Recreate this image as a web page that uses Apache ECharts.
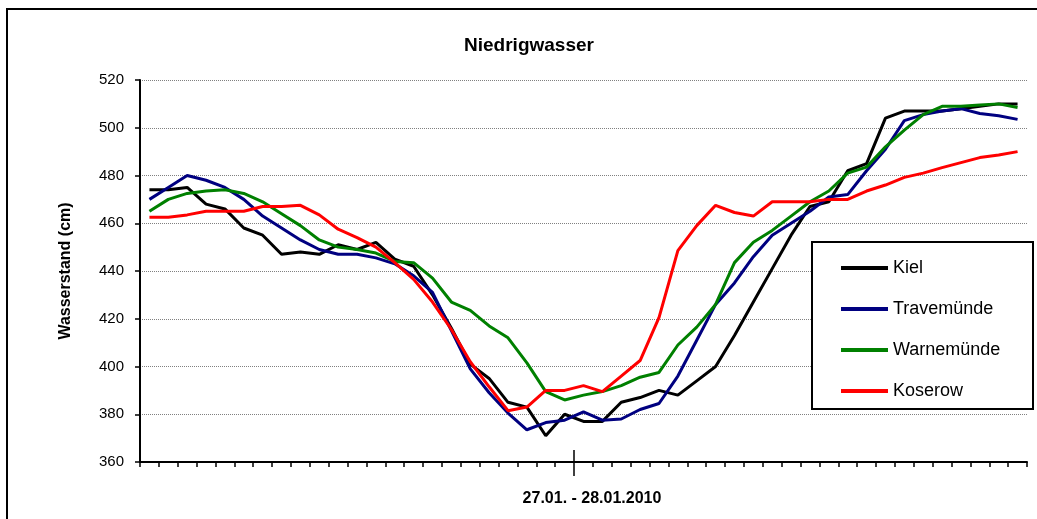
<!DOCTYPE html>
<html>
<head>
<meta charset="utf-8">
<script src="https://cdn.jsdelivr.net/npm/echarts@6/dist/echarts.min.js"></script>
<style>
html,body{margin:0;padding:0;background:#fff;}
#chart{width:1037px;height:519px;}
</style>
</head>
<body>
<div id="chart"></div>
<script>
// Hourly values, 27.01.2010 01:00 .. 28.01.2010 23:00
const categories = [];
for (let h = 1; h <= 23; h++) categories.push('27.01. ' + String(h).padStart(2, '0') + ':00');
for (let h = 0; h <= 23; h++) categories.push('28.01. ' + String(h).padStart(2, '0') + ':00');
const dayBoundaryIndex = 23;

const seriesNames = ['Kiel', 'Travemünde', 'Warnemünde', 'Koserow'];
const kiel = [474,474,475,468,466,458,455,447,448,447,451,449,452,445,442,430,416,401,395,385,383,371,380,377,377,385,387,390,388,394,400,413,427,441,455,467,469,482,485,504,507,507,507,508,509,510,510];
const travemuende = [470,475,480,478,475,470,463,458,453,449,447,447,445.5,443,438,431,415,399,389,380.5,373.5,376.5,377.5,381,377.5,378,382,384.5,396,411,426,435,446,455,460,465,471,472,482,491,503,505.5,507,508,506,505,503.5];
const warnemuende = [465,470,472.5,473.5,474,472.5,469,464,459,453,450,449,447.5,444,443.5,437,427,423.5,417,412,401.5,389.5,386,388,389.5,392,395.5,397.5,409,416.5,426,443.5,452,457,463,469,473.5,481,483.5,492,499,505.5,509,509,509.5,510,508.5];
const koserow = [462.5,462.5,463.5,465,465,465,467,467,467.5,463.5,457.5,454,450,443.5,436.5,427,415.5,402,391.5,381.5,383,390,390,392,389.5,396,402.5,420.5,448.5,459,467.5,464.5,463,469,469,469,470,470,473.5,476,479.2,481,483.3,485.4,487.5,488.6,490];
const seriesData = [kiel, travemuende, warnemuende, koserow];
const colors = ['#000000', '#000080', '#008000', '#ff0000'];

const yMin = 360, yMax = 520, yInterval = 20;
const FONT = '"Liberation Sans", Arial, sans-serif';

const chart = echarts.init(document.getElementById('chart'), null, {renderer: 'canvas'});

const dayTickAxis = (inside, length) => ({
  type: 'value', min: 0, max: categories.length, position: 'bottom',
  axisLine: {show: false}, axisLabel: {show: false}, splitLine: {show: false},
  axisTick: {show: true, inside: inside, length: length, customValues: [dayBoundaryIndex],
             lineStyle: {color: '#000', width: 1.5}}
});

const option = {
  animation: false,
  backgroundColor: '#ffffff',
  title: {
    text: 'Niedrigwasser',
    left: 524, top: 31, textAlign: 'center',
    textStyle: {fontFamily: FONT, fontSize: 19, fontWeight: 'bold', color: '#000'}
  },
  grid: {left: 140, top: 80, right: 10, bottom: 57, containLabel: false},
  legend: {
    orient: 'vertical',
    left: 836, top: 253,
    itemWidth: 47, itemHeight: 4, itemGap: 21,
    icon: 'rect',
    data: seriesNames,
    textStyle: {fontFamily: FONT, fontSize: 18, color: '#000', lineHeight: 20}
  },
  xAxis: [
    {
      type: 'category', data: categories, boundaryGap: true, position: 'bottom',
      name: '27.01. - 28.01.2010', nameLocation: 'middle', nameGap: 29,
      nameTextStyle: {fontFamily: FONT, fontSize: 16, fontWeight: 'bold', color: '#000', padding: [0, 0, 0, 17]},
      axisLine: {show: true, lineStyle: {color: '#000', width: 2}},
      axisTick: {show: true, interval: 0, length: 5, lineStyle: {color: '#000', width: 1.5}},
      axisLabel: {show: false},
      splitLine: {show: false}
    },
    dayTickAxis(true, 12),
    dayTickAxis(false, 14)
  ],
  yAxis: {
    type: 'value', min: yMin, max: yMax, interval: yInterval,
    name: 'Wasserstand (cm)', nameLocation: 'middle', nameGap: 66, nameRotate: 90,
    nameTextStyle: {fontFamily: FONT, fontSize: 16, fontWeight: 'bold', color: '#000'},
    axisLine: {show: true, lineStyle: {color: '#000', width: 2}},
    axisTick: {show: true, length: 5, lineStyle: {color: '#000', width: 1.5}},
    axisLabel: {fontFamily: FONT, fontSize: 15, color: '#000', margin: 16},
    splitLine: {show: true, lineStyle: {color: '#808080', type: 'dotted', width: 1}}
  },
  series: seriesNames.map((n, k) => ({
    name: n, type: 'line', data: seriesData[k], xAxisIndex: 0,
    symbol: 'none', smooth: false,
    color: colors[k],
    lineStyle: {color: colors[k], width: 3}
  })),
  graphic: [
    {type: 'rect', z: 0, silent: true, shape: {x: 7, y: 9, width: 1100, height: 600},
     style: {fill: 'none', stroke: '#000', lineWidth: 2}},
    {type: 'rect', z: 3, silent: true, shape: {x: 812, y: 242, width: 221, height: 167},
     style: {fill: '#fff', stroke: '#000', lineWidth: 2}}
  ]
};
chart.setOption(option);
</script>
</body>
</html>
